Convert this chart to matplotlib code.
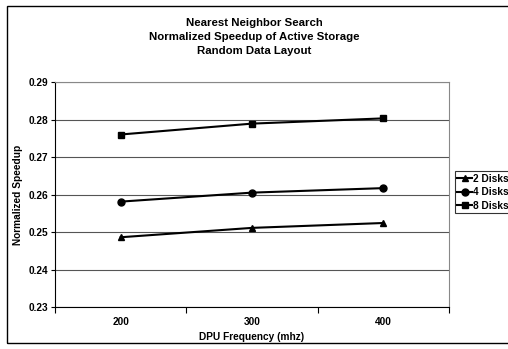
import matplotlib.pyplot as plt
import matplotlib.patches as mpatches
import numpy as np

plt.rcParams['font.family'] = ['Liberation Sans', 'DejaVu Sans']
plt.rcParams['font.weight'] = 'bold'

freqs = ['200', '300', '400']
disks2 = [0.2486, 0.2511, 0.2524]
disks4 = [0.2581, 0.2605, 0.2617]
disks8 = [0.2760, 0.2789, 0.2803]
series = [('2 Disks', disks2, '^'), ('4 Disks', disks4, 'o'), ('8 Disks', disks8, 's')]

fig = plt.figure(figsize=(5.08, 3.49), dpi=100)
# outer chart border (cut off on the right like the original)
fig.patches.append(mpatches.Rectangle((7 / 508, 6 / 349), 1.2, 337 / 349, transform=fig.transFigure,
                                      fill=False, edgecolor='black', linewidth=1.0, clip_on=False))

ax = fig.add_axes([55 / 508, 42 / 349, 394 / 508, 225 / 349])
x = np.arange(len(freqs))
for label, vals, mk in series:
    ax.plot(x, vals, marker=mk, color='black', linewidth=1.5, markersize=5, label=label)

ax.set_xlim(-0.5, 2.5)
ax.set_ylim(0.23, 0.29)
ax.set_yticks(np.arange(0.23, 0.2901, 0.01))
ax.set_yticklabels(['%.2f' % v for v in np.arange(0.23, 0.2901, 0.01)])
ax.set_xticks(x)
ax.set_xticklabels(freqs)
ax.set_xticks([-0.5, 0.5, 1.5, 2.5], minor=True)
ax.tick_params(axis='x', which='major', length=0, pad=7, labelsize=7.3)
ax.tick_params(axis='x', which='minor', length=4, width=0.8, direction='out')
ax.tick_params(axis='y', length=3, width=0.8, direction='out', labelsize=7.3, pad=2)
ax.yaxis.grid(True, color='#555555', linewidth=0.8)
ax.set_axisbelow(True)
for s in ['top', 'right']:
    ax.spines[s].set_color('#888888')
    ax.spines[s].set_linewidth(0.8)
for s in ['left', 'bottom']:
    ax.spines[s].set_color('black')
    ax.spines[s].set_linewidth(0.8)

ax.set_xlabel('DPU Frequency (mhz)', fontsize=7.3, fontweight='bold', labelpad=4)
ax.set_ylabel('Normalized Speedup', fontsize=7.3, fontweight='bold', labelpad=4)

fig.text(0.5, 1 - 37 / 349, 'Nearest Neighbor Search\nNormalized Speedup of Active Storage\nRandom Data Layout',
         ha='center', va='center', fontsize=8.2, fontweight='bold', linespacing=1.55)

leg = ax.legend(loc='center left', bbox_to_anchor=(1.015, 0.51), fontsize=7.3, frameon=True, fancybox=False,
                edgecolor='black', handlelength=1.4, handletextpad=0.1, borderpad=0.25, labelspacing=0.35,
                borderaxespad=0)
leg.get_frame().set_linewidth(0.8)

fig.savefig('out.png', dpi=100)
